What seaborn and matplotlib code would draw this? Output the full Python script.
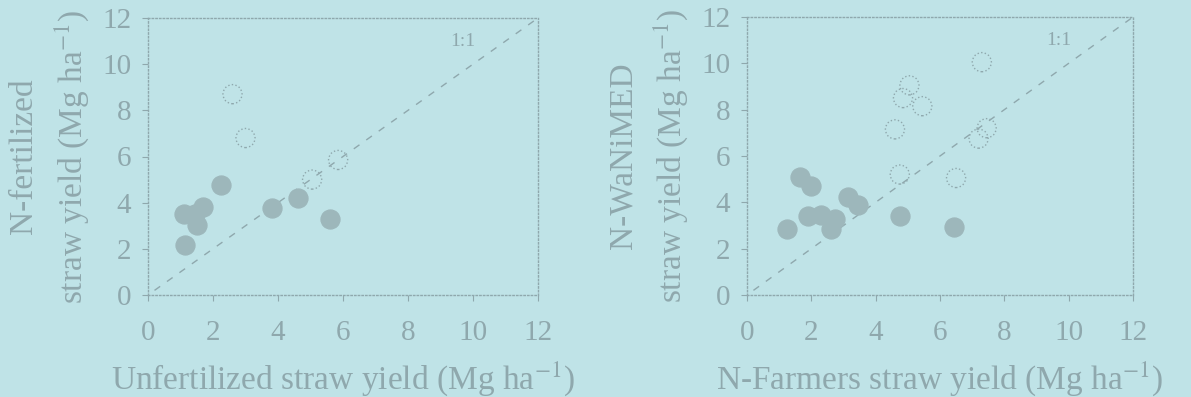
import matplotlib
matplotlib.use("Agg")
import matplotlib.pyplot as plt
import seaborn as sns
import pandas as pd

# Left panel: Unfertilized vs N-fertilized straw yield
left_open_x = [2.6, 3.0, 5.85, 5.05]
left_open_y = [8.7, 6.8, 5.85, 5.0]
left_fill_x = [2.25, 1.15, 1.1, 1.45, 1.7, 1.5, 3.8, 4.6, 5.6]
left_fill_y = [4.75, 2.15, 3.5, 3.5, 3.8, 3.05, 3.75, 4.2, 3.3]

# Right panel: N-Farmers vs N-WaNiMED straw yield
right_open_x = [7.3, 5.05, 4.85, 5.45, 4.6, 7.45, 7.2, 4.75, 6.5]
right_open_y = [10.05, 9.05, 8.5, 8.15, 7.15, 7.2, 6.75, 5.2, 5.05]
right_fill_x = [1.65, 2.0, 3.15, 3.45, 4.75, 6.45, 1.25, 1.9, 2.3, 2.75, 2.6]
right_fill_y = [5.1, 4.7, 4.25, 3.9, 3.4, 2.95, 2.85, 3.4, 3.45, 3.3, 2.85]

ticks = [0, 2, 4, 6, 8, 10, 12]
xlabels = ["Unfertilized straw yield (Mg ha$^{-1}$)", "N-Farmers straw yield (Mg ha$^{-1}$)"]
ylabels = ["N-fertilized\nstraw yield (Mg ha$^{-1}$)", "N-WaNiMED\nstraw yield (Mg ha$^{-1}$)"]

BG = "#bfe3e7"
GREY = "#8fa8ad"
FILL = "#9db7bb"

sns.set_theme(style="ticks")
plt.rcParams["font.family"] = ["Liberation Serif", "DejaVu Serif"]
plt.rcParams["mathtext.fontset"] = "stix"

fig = plt.figure(figsize=(11.91, 3.97), dpi=100, facecolor=BG)
ax1 = fig.add_axes([148 / 1191, 1 - 295 / 397, 390 / 1191, 277 / 397])
ax2 = fig.add_axes([747 / 1191, 1 - 295 / 397, 386 / 1191, 278 / 397])

panels = [
    (ax1, left_open_x, left_open_y, left_fill_x, left_fill_y),
    (ax2, right_open_x, right_open_y, right_fill_x, right_fill_y),
]

for i, (ax, ox, oy, fx, fy) in enumerate(panels):
    ax.set_facecolor(BG)
    line_df = pd.DataFrame({"x": [0.2, 12], "y": [0.2, 12]})
    sns.lineplot(data=line_df, x="x", y="y", ax=ax, color=GREY, lw=1.0,
                 linestyle=(0, (5, 6)), zorder=1)
    sns.scatterplot(x=fx, y=fy, ax=ax, s=190, color=FILL, edgecolor=FILL,
                    linewidth=0.8, zorder=3)
    sns.scatterplot(x=ox, y=oy, ax=ax, s=190, facecolor="none", edgecolor=GREY,
                    linewidth=1.0, linestyle=":", zorder=3)
    ax.text(9.7, 11.0, "1:1", fontsize=14, color=GREY, ha="center", va="center")
    ax.set_xlim(0, 12)
    ax.set_ylim(0, 12)
    ax.set_xticks(ticks)
    ax.set_yticks(ticks)
    ax.tick_params(axis="both", labelsize=21, colors=GREY, length=4, width=0.8,
                   direction="out")
    ax.tick_params(axis="x", pad=14)
    ax.tick_params(axis="y", pad=8)
    for sp in ax.spines.values():
        sp.set_color(GREY)
        sp.set_linewidth(1.0)
        sp.set_linestyle(":")
    ax.set_xlabel(xlabels[i], fontsize=24, color=GREY, labelpad=10)
    ax.set_ylabel(ylabels[i], fontsize=24, color=GREY, labelpad=8, linespacing=1.45)

fig.savefig("out.png", dpi=100, facecolor=BG)
